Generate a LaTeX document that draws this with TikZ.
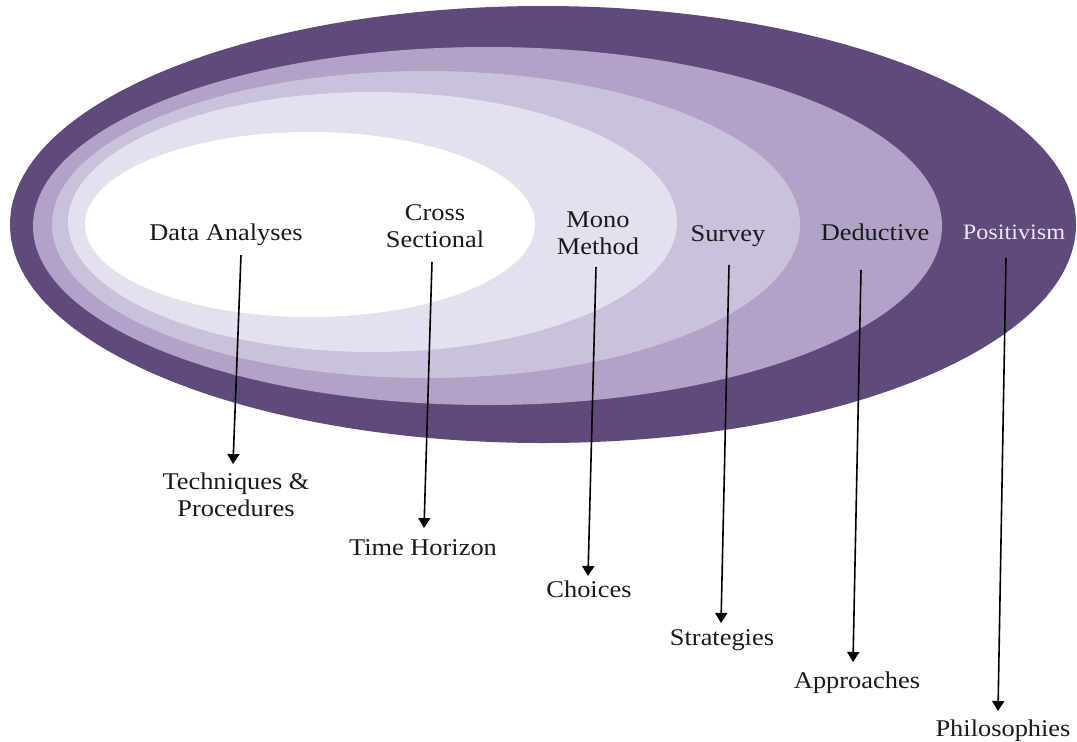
\documentclass[tikz,border=0pt]{standalone}
\usepackage{fontspec}
\setmainfont{Liberation Serif}[FakeStretch=1.1]
\usetikzlibrary{arrows.meta}
\definecolor{ringA}{HTML}{5F4A7B}
\definecolor{ringB}{HTML}{B3A2C8}
\definecolor{ringC}{HTML}{CBC1DB}
\definecolor{ringD}{HTML}{E5E0EE}
\definecolor{ringE}{HTML}{FFFFFF}
\definecolor{inktext}{HTML}{1A1A1A}
\definecolor{paletext}{HTML}{EEE8F5}
\tikzset{
  lbl/.style={anchor=base, align=center, inner sep=0pt, text=inktext,
    font=\fontsize{24}{27}\selectfont},
  palelbl/.style={lbl, text=paletext, font=\fontsize{22}{27}\selectfont},
  arr/.style={draw=black, line width=1.6pt, -{Triangle[length=10pt,width=12pt]}}
}
\begin{document}
\begin{tikzpicture}[x=1pt,y=-1pt]
\useasboundingbox (0,0) rectangle (1077,742);
% onion layers
\fill[ringA] (543,224.5) ellipse [x radius=533pt, y radius=218.5pt];
\fill[ringB] (487.5,226) ellipse [x radius=454.5pt, y radius=179pt];
\fill[ringC] (426,224.5) ellipse [x radius=374pt, y radius=153.5pt];
\fill[ringD] (372.5,222) ellipse [x radius=304.5pt, y radius=130pt];
\fill[ringE] (310,224.5) ellipse [x radius=225pt, y radius=92.5pt];
% layer labels
\node[lbl] (da) at (226,240) {Data Analyses};
\node[lbl] (cs) at (435,247) {Cross\\Sectional};
\node[lbl] (mm) at (598,254) {Mono\\Method};
\node[lbl] (sv) at (728,241) {Survey};
\node[lbl] (dd) at (875,240) {Deductive};
\node[palelbl] (ps) at (1014,239) {Positivism};
% category labels
\node[lbl] (tp) at (236,516) {Techniques \&\\Procedures};
\node[lbl] (th) at (423,555) {Time Horizon};
\node[lbl] (ch) at (589,597) {Choices};
\node[lbl] (st) at (722,645) {Strategies};
\node[lbl] (ap) at (857,688) {Approaches};
\node[lbl] (ph) at (1003,736) {Philosophies};
% arrow ends
\coordinate (daS) at (241,255); \coordinate (tpE) at (233,464);
\coordinate (csS) at (432,262); \coordinate (thE) at (424,528);
\coordinate (mmS) at (596,267); \coordinate (chE) at (588,576);
\coordinate (svS) at (729,265); \coordinate (stE) at (721,623);
\coordinate (ddS) at (861,270); \coordinate (apE) at (853,662);
\coordinate (psS) at (1006,258); \coordinate (phE) at (998,711);
\draw[arr] (daS) -- (tpE);
\draw[arr] (csS) -- (thE);
\draw[arr] (mmS) -- (chE);
\draw[arr] (svS) -- (stE);
\draw[arr] (ddS) -- (apE);
\draw[arr] (psS) -- (phE);
\end{tikzpicture}
\end{document}
